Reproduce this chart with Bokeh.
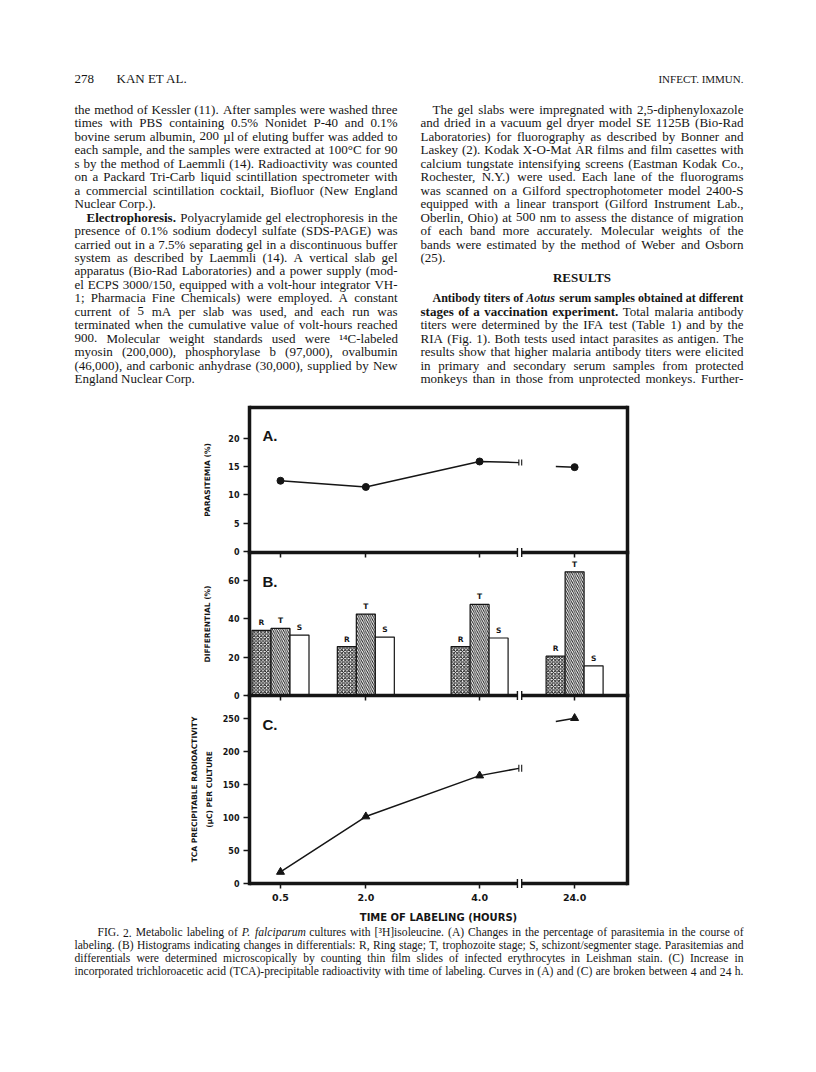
import math
from bokeh.plotting import figure
from bokeh.models import Range1d, LinearAxis, FixedTicker, ColumnDataSource
from bokeh.core.properties import value
from bokeh.embed import file_html
from bokeh.resources import INLINE

# ---------------- chart data ----------------
HOURS = [0.5, 2.0, 4.0, 24.0]
HOUR_LABELS = ["0.5", "2.0", "4.0", "24.0"]

PARASITEMIA = [12.5, 11.4, 15.9, 14.9]          # panel A (%)
PARASITEMIA_AT_BREAK = [15.7, 15.0]             # curve value where it stops / resumes at the break

RING = [34.0, 25.5, 25.5, 20.5]                 # panel B (%)
TROPHOZOITE = [35.0, 42.5, 47.5, 64.5]
SCHIZONT = [31.5, 30.5, 30.0, 15.5]
STAGE_LETTERS = ["R", "T", "S"]

TCA = [17.0, 101.0, 163.0, 250.0]               # panel C (uC per culture)
TCA_AT_BREAK = [174.0, 245.0]

A_TICKS = [0, 5, 10, 15, 20]
B_TICKS = [0, 20, 40, 60]
C_TICKS = [0, 50, 100, 150, 200, 250]

A_LABEL = "PARASITEMIA (%)"
B_LABEL = "DIFFERENTIAL (%)"
C_LABEL = ["TCA PRECIPITABLE RADIOACTIVITY", "(\u00b5C) PER CULTURE"]
X_LABEL = "TIME OF LABELING (HOURS)"

# ---------------- broken time axis ----------------
BREAK_AFTER = 4.0        # hours shown linearly up to here
CURVE_STOP = 4.69        # axis units where curves stop before the break
CURVE_RESUME = 5.34      # axis units where curves resume after the break
AXIS_BREAK = [4.665, 4.74]
POS_24 = 5.67            # axis position of the 24 h point
X_RANGE = (-0.045, 6.60) # axis units at the left / right frame edges
BAR_W = 0.334

# value ranges at the (bottom, top) edge of each panel
A_YR = (-0.18, 25.44)
B_YR = (0.0, 74.6)
C_YR = (-0.45, 284.4)


def xpos(h):
    return h if h <= BREAK_AFTER else POS_24


XT = [xpos(h) for h in HOURS]

# ---------------- page geometry (pixels on the page) ----------------
PAGE_W, PAGE_H = 800, 1056
PX0, PY0 = 8, 8
FRAME_L, FRAME_R = 257, 635
BOXES = {"A": (560, 415), "B": (703, 560), "C": (891, 703)}   # (bottom, top)
YRS = {"A": A_YR, "B": B_YR, "C": C_YR}

SANS = "DejaVu Sans"
LETTER_FONT = "Liberation Sans"
SERIF = "Liberation Serif"
INK = "#151515"


def extended(lo, hi, lo_px, hi_px, page_a, page_b):
    k = (hi - lo) / (hi_px - lo_px)
    return Range1d(lo + (page_a - lo_px) * k, lo + (page_b - lo_px) * k)


p = figure(width=PAGE_W, height=PAGE_H,
           x_range=Range1d(PX0, PX0 + PAGE_W), y_range=Range1d(PY0 + PAGE_H, PY0),
           output_backend="svg", toolbar_location=None, min_border=0,
           x_axis_location=None, y_axis_location=None)
p.grid.visible = False
p.outline_line_color = None
p.background_fill_color = "white"
p.border_fill_color = "white"
p.extra_x_ranges = {"t": extended(X_RANGE[0], X_RANGE[1], FRAME_L, FRAME_R, PX0, PX0 + PAGE_W)}
p.extra_y_ranges = {k: extended(YRS[k][0], YRS[k][1], BOXES[k][0], BOXES[k][1], PY0 + PAGE_H, PY0)
                    for k in YRS}


def left_axis(name, ticks):
    ax = LinearAxis(x_range_name="t", y_range_name=name, fixed_location=X_RANGE[0],
                    ticker=FixedTicker(ticks=ticks), minor_tick_line_color=None,
                    major_tick_in=0, major_tick_out=6, major_tick_line_width=1.5,
                    major_tick_line_color=INK, axis_line_color=None,
                    major_label_standoff=4, major_label_text_font=SANS,
                    major_label_text_font_style="bold", major_label_text_font_size="8px",
                    major_label_text_color=INK)
    p.add_layout(ax, "left")


def bottom_axis(name, labels):
    kw = dict(x_range_name="t", y_range_name=name, fixed_location=YRS[name][0],
              ticker=FixedTicker(ticks=XT), minor_tick_line_color=None,
              major_tick_in=0, major_tick_out=5, major_tick_line_width=1.5,
              major_tick_line_color=INK, axis_line_color=None)
    if labels:
        kw.update(major_label_overrides=dict(zip(XT, HOUR_LABELS)), major_label_standoff=5,
                  major_label_text_font=SANS, major_label_text_font_style="bold",
                  major_label_text_font_size="9.5px", major_label_text_color=INK)
    else:
        kw.update(major_label_overrides={t: "" for t in XT}, major_label_standoff=0,
                  major_label_text_font_size="0px")
    p.add_layout(LinearAxis(**kw), "below")


def frame(name, with_top):
    lo, hi = YRS[name]
    r = dict(x_range_name="t", y_range_name=name, line_color=INK, line_width=3.5)
    p.segment(x0=[X_RANGE[0], X_RANGE[1]], y0=[lo, lo], x1=[X_RANGE[0], X_RANGE[1]], y1=[hi, hi],
              line_cap="square", **r)
    xs0 = [X_RANGE[0], AXIS_BREAK[1]]
    xs1 = [AXIS_BREAK[0], X_RANGE[1]]
    ys0 = [lo, lo]
    if with_top:
        xs0.append(X_RANGE[0]); xs1.append(X_RANGE[1]); ys0.append(hi)
    p.segment(x0=xs0, y0=ys0, x1=xs1, y1=ys0, line_cap="butt", **r)
    p.scatter(x=AXIS_BREAK, y=[lo, lo], marker="dash", angle=math.pi / 2, size=9,
              line_width=1.4, line_color=INK, x_range_name="t", y_range_name=name)


def curve(name, vals, at_break, marker, size, mark_size):
    r = dict(x_range_name="t", y_range_name=name)
    p.line(x=XT[:3] + [CURVE_STOP], y=vals[:3] + [at_break[0]], line_width=1.5, line_color=INK, **r)
    p.line(x=[CURVE_RESUME, XT[3]], y=[at_break[1], vals[3]], line_width=1.5, line_color=INK, **r)
    p.scatter(x=XT, y=vals, marker=marker, size=size, fill_color=INK, line_color=INK, **r)
    p.scatter(x=[CURVE_STOP, CURVE_STOP + 0.05], y=[at_break[0]] * 2, marker="dash",
              angle=math.pi / 2, size=mark_size, line_width=1.1, line_color=INK, **r)


def label(x, y, text, size, font=SANS, angle=0.0, align="center", baseline="middle"):
    p.text(x=[x], y=[y], text=[text], angle=angle, text_font=value(font), text_font_style="bold",
           text_font_size=size, text_align=align, text_baseline=baseline, text_color=INK)


# ---------------- panel A ----------------
frame("A", True)
left_axis("A", A_TICKS)
bottom_axis("A", False)
curve("A", PARASITEMIA, PARASITEMIA_AT_BREAK, "circle", 7, 6)

# ---------------- panel B ----------------
rb = dict(x_range_name="t", y_range_name="B")
p.vbar(x=[x - BAR_W for x in XT], top=RING, bottom=0, width=BAR_W,
       fill_color="white", line_color=INK, line_width=1.2,
       hatch_pattern="x", hatch_scale=3.5, hatch_weight=1.0, hatch_color=INK, **rb)
p.vbar(x=XT, top=TROPHOZOITE, bottom=0, width=BAR_W,
       fill_color="white", line_color=INK, line_width=1.2,
       hatch_pattern="left_diagonal_line", hatch_scale=4.2, hatch_weight=0.9, hatch_color=INK, **rb)
p.vbar(x=[x + BAR_W for x in XT], top=SCHIZONT, bottom=0, width=BAR_W,
       fill_color="white", line_color=INK, line_width=1.2, **rb)
lx, ly, lt = [], [], []
for k, vals in enumerate([RING, TROPHOZOITE, SCHIZONT]):
    for x, v in zip(XT, vals):
        lx.append(x + (k - 1) * BAR_W)
        ly.append(v)
        lt.append(STAGE_LETTERS[k])
p.text(x=lx, y=ly, text=lt, y_offset=-3, text_align="center", text_baseline="bottom",
       text_font=value(SANS), text_font_style="bold", text_font_size="7.5px", text_color=INK, **rb)
frame("B", False)
left_axis("B", B_TICKS)
bottom_axis("B", False)

# ---------------- panel C ----------------
frame("C", False)
left_axis("C", C_TICKS)
bottom_axis("C", True)
curve("C", TCA, TCA_AT_BREAK, "triangle", 8, 7)

# axis titles and panel letters
label(215, 487.5, A_LABEL, "7.5px", angle=math.pi / 2)
label(215, 631.5, B_LABEL, "7.5px", angle=math.pi / 2)
label(202, 797, C_LABEL[0], "7.5px", angle=math.pi / 2)
label(217, 797, C_LABEL[1], "7.5px", angle=math.pi / 2)
label(446, 925, X_LABEL, "10px")
for letter, base in [("A.", 443), ("B.", 589), ("C.", 732)]:
    label(270, base, letter, "15px", font=LETTER_FONT, align="left", baseline="alphabetic")

# ---------------- page text ----------------
LEFT_LINES = [
    [("the method of Kessler (11). After samples were washed three", "normal")],
    [("times with PBS containing 0.5% Nonidet P-40 and 0.1%", "normal")],
    [("bovine serum albumin, 200 \u00b5l of eluting buffer was added to", "normal")],
    [("each sample, and the samples were extracted at 100\u00b0C for 90", "normal")],
    [("s by the method of Laemmli (14). Radioactivity was counted", "normal")],
    [("on a Packard Tri-Carb liquid scintillation spectrometer with", "normal")],
    [("a commercial scintillation cocktail, Biofluor (New England", "normal")],
    [("Nuclear Corp.).", "normal")],
    [("Electrophoresis.", "bold"), ("Polyacrylamide gel electrophoresis in the", "normal")],
    [("presence of 0.1% sodium dodecyl sulfate (SDS-PAGE) was", "normal")],
    [("carried out in a 7.5% separating gel in a discontinuous buffer", "normal")],
    [("system as described by Laemmli (14). A vertical slab gel", "normal")],
    [("apparatus (Bio-Rad Laboratories) and a power supply (mod-", "normal")],
    [("el ECPS 3000/150, equipped with a volt-hour integrator VH-", "normal")],
    [("1; Pharmacia Fine Chemicals) were employed. A constant", "normal")],
    [("current of 5 mA per slab was used, and each run was", "normal")],
    [("terminated when the cumulative value of volt-hours reached", "normal")],
    [("900. Molecular weight standards used were \u00b9\u2074C-labeled", "normal")],
    [("myosin (200,000), phosphorylase b (97,000), ovalbumin", "normal")],
    [("(46,000), and carbonic anhydrase (30,000), supplied by New", "normal")],
    [("England Nuclear Corp.", "normal")],
]
LEFT_INDENTED = {8}
LEFT_PARAGRAPH_ENDS = {7, 20}

RIGHT_LINES = [
    (0, [("The gel slabs were impregnated with 2,5-diphenyloxazole", "normal")]),
    (1, [("and dried in a vacuum gel dryer model SE 1125B (Bio-Rad", "normal")]),
    (2, [("Laboratories) for fluorography as described by Bonner and", "normal")]),
    (3, [("Laskey (2). Kodak X-O-Mat AR films and film casettes with", "normal")]),
    (4, [("calcium tungstate intensifying screens (Eastman Kodak Co.,", "normal")]),
    (5, [("Rochester, N.Y.) were used. Each lane of the fluorograms", "normal")]),
    (6, [("was scanned on a Gilford spectrophotometer model 2400-S", "normal")]),
    (7, [("equipped with a linear transport (Gilford Instrument Lab.,", "normal")]),
    (8, [("Oberlin, Ohio) at 500 nm to assess the distance of migration", "normal")]),
    (9, [("of each band more accurately. Molecular weights of the", "normal")]),
    (10, [("bands were estimated by the method of Weber and Osborn", "normal")]),
    (11, [("(25).", "normal")]),
    (14, [("Antibody titers of", "bold"), ("Aotus", "bold italic"),
          ("serum samples obtained at different", "bold")]),
    (15, [("stages of a vaccination experiment.", "bold"), ("Total malaria antibody", "normal")]),
    (16, [("titers were determined by the IFA test (Table 1) and by the", "normal")]),
    (17, [("RIA (Fig. 1). Both tests used intact parasites as antigen. The", "normal")]),
    (18, [("results show that higher malaria antibody titers were elicited", "normal")]),
    (19, [("in primary and secondary serum samples from protected", "normal")]),
    (20, [("monkeys than in those from unprotected monkeys. Further-", "normal")]),
]
RIGHT_INDENTED = {0, 14}
RIGHT_PARAGRAPH_ENDS = {11}
RESULTS_SLOT = 12.5
HEADING = "RESULTS"

HEADER_LEFT = [(0, "278"), (42, "KAN ET AL.")]
HEADER_RIGHT = "INFECT. IMMUN."

CAPTION_LINES = [
    [("FIG. 2. Metabolic labeling of", "normal"), ("P. falciparum", "italic"),
     ("cultures with [\u00b3H]isoleucine. (A) Changes in the percentage of parasitemia in the course of", "normal")],
    [("labeling. (B) Histograms indicating changes in differentials: R, Ring stage; T, trophozoite stage; S, schizont/segmenter stage. Parasitemias and", "normal")],
    [("differentials were determined microscopically by counting thin film slides of infected erythrocytes in Leishman stain. (C) Increase in", "normal")],
    [("incorporated trichloroacetic acid (TCA)-precipitable radioactivity with time of labeling. Curves in (A) and (C) are broken between 4 and 24 h.", "normal")],
]

# text block geometry
LEFT_X, RIGHT_X, COL_W = 82, 428, 323
CAPTION_W = 669
BODY_SIZE, CAPTION_SIZE = 13.0, 11.6
INDENT, CAPTION_INDENT = 12, 23
FIRST_BASE, LEAD = 117, 13.45
HEADER_BASE = 86
CAPTION_BASE, CAPTION_LEAD = 940, 13

# approximate Times metrics (1/1000 em) used to justify lines
_REG = dict(zip("abcdefghijklmnopqrstuvwxyz",
                [444, 500, 444, 500, 444, 333, 500, 500, 278, 278, 500, 278, 778,
                 500, 500, 500, 500, 333, 389, 278, 500, 500, 722, 500, 500, 444]))
_REG.update(zip("ABCDEFGHIJKLMNOPQRSTUVWXYZ",
                [722, 667, 667, 722, 611, 556, 722, 722, 333, 389, 722, 611, 889,
                 722, 722, 556, 722, 667, 556, 611, 722, 722, 944, 722, 722, 611]))
_REG.update({".": 250, ",": 250, ":": 278, ";": 278, "-": 333, "(": 333, ")": 333, "[": 333,
             "]": 333, "/": 278, "%": 833, "\u00b5": 500, "\u00b0": 400, "\u00b9": 300,
             "\u2074": 300, "\u00b3": 300, "'": 333})
_BOLD = dict(_REG)
_BOLD.update(zip("abcdefghijklmnopqrstuvwxyz",
                 [500, 556, 444, 556, 444, 333, 500, 556, 278, 333, 556, 278, 833,
                  556, 500, 556, 556, 444, 389, 333, 556, 500, 722, 500, 500, 444]))
_BOLD.update(zip("ABCDEFGHIJKLMNOPQRSTUVWXYZ",
                 [722, 667, 722, 722, 667, 611, 778, 778, 389, 500, 778, 667, 944,
                  722, 778, 611, 778, 722, 556, 667, 722, 722, 1000, 722, 722, 667]))


def word_width(word, style, size):
    tab = _BOLD if "bold" in style else _REG
    return sum(tab.get(c, 500) for c in word) * size / 1000.0


words = dict(x=[], y=[], text=[], style=[], size=[])


def set_line(runs, x0, width, y, size, indent, justify):
    items = [(w, st) for txt, st in runs for w in txt.split()]
    avail = width - indent
    ws = [word_width(w, st, size) for w, st in items]
    space = 0.25 * size
    natural = sum(ws) + space * (len(items) - 1)
    s = size
    if natural > avail:
        s = size * avail / natural
        ws = [w * s / size for w in ws]
        space = 0.25 * s
    gap = (avail - sum(ws)) / (len(items) - 1) if justify and len(items) > 1 else space
    x = x0 + indent
    for (w, st), wd in zip(items, ws):
        words["x"].append(x)
        words["y"].append(y)
        words["text"].append(w)
        words["style"].append(st)
        words["size"].append("%.2fpx" % s)
        x += wd + gap


for i, runs in enumerate(LEFT_LINES):
    set_line(runs, LEFT_X, COL_W, FIRST_BASE + i * LEAD, BODY_SIZE,
             INDENT if i in LEFT_INDENTED else 0, i not in LEFT_PARAGRAPH_ENDS)
for slot, runs in RIGHT_LINES:
    set_line(runs, RIGHT_X, COL_W, FIRST_BASE + slot * LEAD, BODY_SIZE,
             INDENT if slot in RIGHT_INDENTED else 0, slot not in RIGHT_PARAGRAPH_ENDS)
for i, runs in enumerate(CAPTION_LINES):
    set_line(runs, LEFT_X, CAPTION_W, CAPTION_BASE + i * CAPTION_LEAD, CAPTION_SIZE,
             CAPTION_INDENT if i == 0 else 0, True)
for dx, t in HEADER_LEFT:
    words["x"].append(LEFT_X + dx)
    words["y"].append(HEADER_BASE)
    words["text"].append(t)
    words["style"].append("normal")
    words["size"].append("13px")

p.text(x="x", y="y", text="text", text_font_style="style", text_font_size="size",
       source=ColumnDataSource(words), text_font=value(SERIF), text_baseline="alphabetic",
       text_color=INK)
label(RIGHT_X + COL_W / 2, FIRST_BASE + RESULTS_SLOT * LEAD, HEADING, "13px",
      font=SERIF, baseline="alphabetic")
p.text(x=[RIGHT_X + COL_W], y=[HEADER_BASE], text=[HEADER_RIGHT], text_font=value(SERIF),
       text_font_size="11px", text_align="right", text_baseline="alphabetic", text_color=INK)

open("out.html", "w").write(file_html(p, INLINE))
